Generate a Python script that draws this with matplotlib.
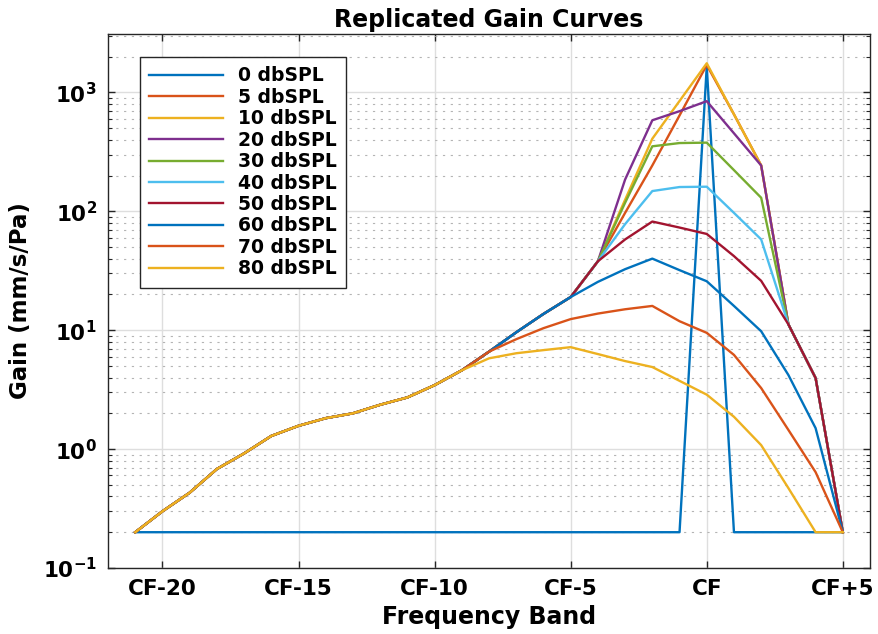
"""
Replicated gain curves: gain vs frequency band for several input levels.
"""

import numpy as np
import matplotlib
matplotlib.use('Agg')
import matplotlib.pyplot as plt
from matplotlib.ticker import FixedLocator, LogLocator, NullFormatter

# frequency bands relative to CF
bands = np.arange(-21, 6)

# values shared by every curve on the far low side (CF-21 .. CF-9)
low_tail = [0.2, 0.30, 0.43, 0.68, 0.92, 1.29, 1.57, 1.82, 2.0, 2.36, 2.72, 3.45, 4.6]

gain_0 = [0.2] * 20 + [0.2, 1645.0, 0.2] + [0.2] * 4
gain_5 = low_tail + [6.6, 9.6, 13.7, 19.0, 38.0, 97.0, 243.0, 640.0, 1700.0, 654.0, 243.0, 11.2, 3.96, 0.2]
gain_10 = low_tail + [6.6, 9.6, 13.7, 19.0, 38.0, 125.0, 408.0, 847.0, 1758.0, 654.0, 243.0, 11.2, 3.96, 0.2]
gain_20 = low_tail + [6.6, 9.6, 13.7, 19.0, 38.0, 185.0, 583.0, 695.0, 844.0, 453.0, 243.0, 11.2, 3.96, 0.2]
gain_30 = low_tail + [6.6, 9.6, 13.7, 19.0, 38.0, 118.0, 352.0, 375.0, 378.0, 222.0, 130.0, 11.2, 3.96, 0.2]
gain_40 = low_tail + [6.6, 9.6, 13.7, 19.0, 38.0, 78.0, 148.0, 160.0, 161.0, 97.0, 58.0, 11.2, 3.96, 0.2]
gain_50 = low_tail + [6.6, 9.6, 13.7, 19.0, 38.0, 58.0, 82.0, 73.0, 64.5, 42.0, 26.0, 11.2, 3.96, 0.2]
gain_60 = low_tail + [6.6, 9.6, 13.7, 19.0, 25.5, 32.6, 40.0, 32.0, 25.8, 16.0, 9.8, 4.2, 1.5, 0.2]
gain_70 = low_tail + [6.6, 8.4, 10.4, 12.4, 13.8, 15.0, 16.0, 11.9, 9.5, 6.2, 3.26, 1.45, 0.64, 0.2]
gain_80 = low_tail + [5.8, 6.4, 6.8, 7.2, 6.3, 5.5, 4.9, 3.75, 2.87, 1.87, 1.08, 0.47, 0.2, 0.2]

levels = ['0 dbSPL', '5 dbSPL', '10 dbSPL', '20 dbSPL', '30 dbSPL',
          '40 dbSPL', '50 dbSPL', '60 dbSPL', '70 dbSPL', '80 dbSPL']
curves = [gain_0, gain_5, gain_10, gain_20, gain_30,
          gain_40, gain_50, gain_60, gain_70, gain_80]

tick_pos = [-20, -15, -10, -5, 0, 5]
tick_labels = ['CF-20', 'CF-15', 'CF-10', 'CF-5', 'CF', 'CF+5']
ytick_exp = [-1, 0, 1, 2, 3]

# matlab default line colours
colors = ['#0072BD', '#D95319', '#EDB120', '#7E2F8E', '#77AC30',
          '#4DBEEE', '#A2142F']

plt.rcParams['font.family'] = ['DejaVu Sans']
plt.rcParams['font.weight'] = 'bold'
plt.rcParams['axes.labelweight'] = 'bold'
plt.rcParams['axes.titleweight'] = 'bold'


def main():
    fig = plt.figure(figsize=(8.79, 6.34), dpi=100)
    ax = fig.add_axes([0.1229, 0.1041, 0.8669, 0.8423])

    for i, (lab, g) in enumerate(zip(levels, curves)):
        ax.plot(bands, g, color=colors[i % len(colors)], linewidth=1.7, label=lab)

    ax.set_yscale('log')
    ax.set_xlim(-22, 6)
    ax.set_ylim(0.1, 3100)

    ax.xaxis.set_major_locator(FixedLocator(tick_pos))
    ax.set_xticklabels(tick_labels, fontsize=15.5, fontweight='bold')
    ax.set_yticks([10.0 ** e for e in ytick_exp])
    ax.set_yticklabels([r'$\mathbf{10^{%d}}$' % e for e in ytick_exp], fontsize=15.5)
    ax.yaxis.set_minor_locator(LogLocator(base=10, subs=np.arange(2, 10)))
    ax.yaxis.set_minor_formatter(NullFormatter())

    ax.tick_params(which='both', direction='in', top=True, right=True,
                   colors='#262626', labelcolor='black')
    ax.tick_params(which='major', length=5, width=1)
    ax.tick_params(which='minor', length=3, width=0.8)
    ax.tick_params(axis='x', pad=8)
    ax.tick_params(axis='y', pad=8)

    ax.grid(True, which='major', color='#dedede', linewidth=1, linestyle='-')
    ax.grid(True, which='minor', axis='y', color='#b4b4b4', linewidth=0.8,
            linestyle=(0, (2, 5)))
    ax.set_axisbelow(True)
    for s in ax.spines.values():
        s.set_color('#262626')
        s.set_linewidth(1)

    ax.set_xlabel('Frequency Band', fontsize=17, labelpad=4)
    ax.set_ylabel('Gain (mm/s/Pa)', fontsize=16.5, labelpad=8)
    ax.set_title('Replicated Gain Curves', fontsize=17, pad=5)

    leg = ax.legend(loc='upper left', bbox_to_anchor=(0.042, 0.957),
                    fontsize=13.5, handlelength=3.9, labelspacing=0.13,
                    fancybox=False, framealpha=1, borderaxespad=0,
                    borderpad=0.5, handletextpad=0.8)
    leg.get_frame().set_edgecolor('#262626')
    leg.get_frame().set_linewidth(1)

    fig.savefig('out.png', dpi=100)


if __name__ == '__main__':
    main()
